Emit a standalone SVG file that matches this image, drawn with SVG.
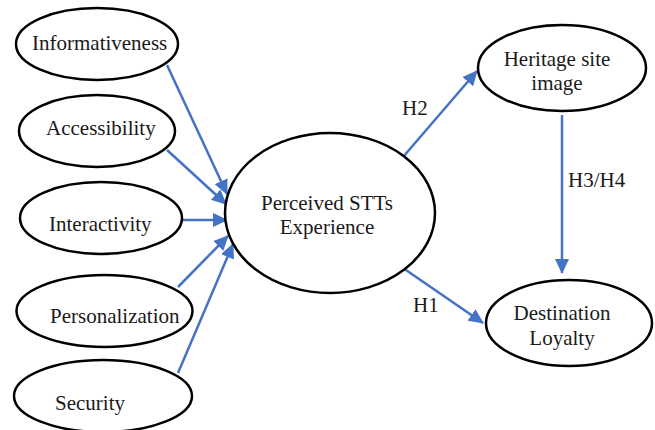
<svg xmlns="http://www.w3.org/2000/svg" width="655" height="430" viewBox="0 0 655 430">
<style>
.n{fill:#fff;stroke:#000;stroke-width:2.5}
.t{font-family:"Liberation Serif","Times New Roman",serif;font-size:21px;fill:#1a1a1a}
.c{text-anchor:middle}
.e{stroke:#4472C4;stroke-width:2.5;fill:none;marker-end:url(#ah)}
</style>
<defs>
<marker id="ah" markerUnits="userSpaceOnUse" markerWidth="16" markerHeight="15" refX="14" refY="7" orient="auto">
<path d="M0,0 L15,7 L0,14 z" fill="#4472C4"/>
</marker>
</defs>
<rect width="655" height="430" fill="#fff"/>
<g id="connectors">
<line class="e" x1="167" y1="65" x2="227" y2="194"/>
<line class="e" x1="167" y1="150" x2="226" y2="204"/>
<line class="e" x1="183" y1="220" x2="227" y2="220"/>
<line class="e" x1="178" y1="287" x2="228" y2="236"/>
<line class="e" x1="178" y1="373" x2="233" y2="244"/>
<line class="e" x1="403" y1="157" x2="477" y2="71"/>
<line class="e" x1="403" y1="268" x2="483" y2="323"/>
<line class="e" x1="562" y1="115" x2="562" y2="273"/>
<text class="t" x="402" y="115">H2</text>
<text class="t" x="413" y="312">H1</text>
<text class="t" x="568" y="187">H3/H4</text>
</g>
<g id="informativeness">
<ellipse class="n" cx="97" cy="44" rx="81" ry="36"/>
<text class="t" x="32" y="50">Informativeness</text>
</g>
<g id="accessibility">
<ellipse class="n" cx="97" cy="131" rx="78" ry="36"/>
<text class="t" x="46" y="135">Accessibility</text>
</g>
<g id="interactivity">
<ellipse class="n" cx="101" cy="218" rx="81" ry="36"/>
<text class="t" x="49" y="231">Interactivity</text>
</g>
<g id="personalization">
<ellipse class="n" cx="104.5" cy="311" rx="88" ry="36"/>
<text class="t" x="50" y="323">Personalization</text>
</g>
<g id="security">
<ellipse class="n" cx="103" cy="396" rx="89" ry="36"/>
<text class="t" x="55" y="410">Security</text>
</g>
<g id="perceived">
<ellipse class="n" cx="330" cy="213" rx="105" ry="80"/>
<text class="t c" x="327" y="210">Perceived STTs</text>
<text class="t c" x="327" y="234">Experience</text>
</g>
<g id="heritage">
<ellipse class="n" cx="562" cy="68" rx="84" ry="43"/>
<text class="t c" x="557" y="66">Heritage site</text>
<text class="t c" x="557" y="90">image</text>
</g>
<g id="loyalty">
<ellipse class="n" cx="569" cy="323" rx="83" ry="43"/>
<text class="t c" x="562" y="320">Destination</text>
<text class="t c" x="562" y="345">Loyalty</text>
</g>
</svg>
